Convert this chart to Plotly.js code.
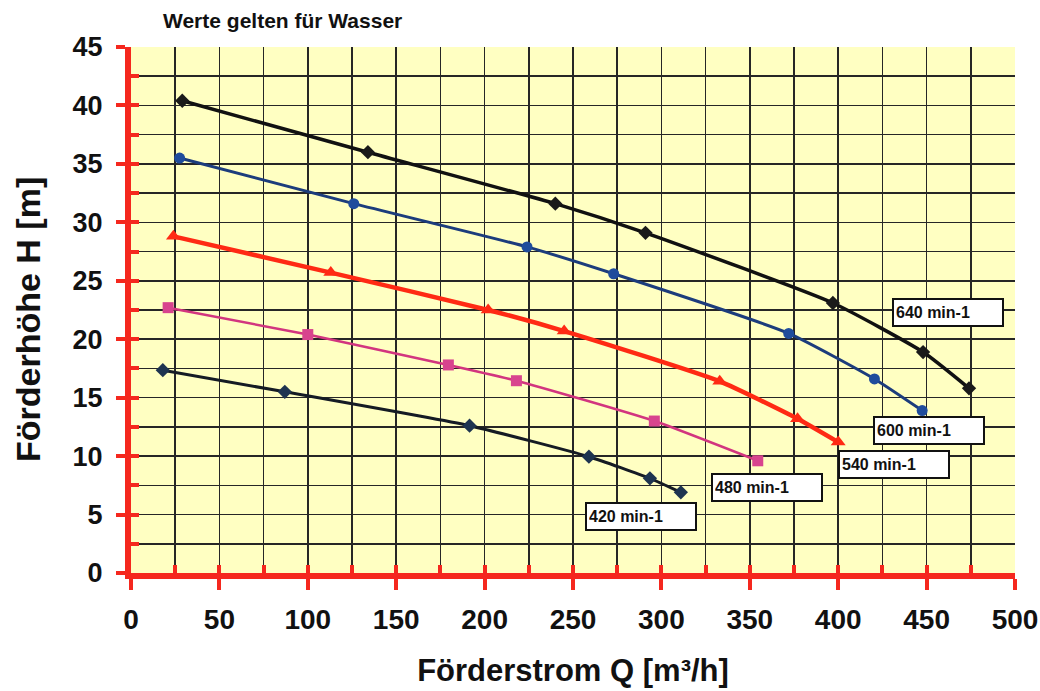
<!DOCTYPE html>
<html>
<head>
<meta charset="utf-8">
<script src="https://cdn.plot.ly/plotly-3.0.1.min.js"></script>
<style>html,body{margin:0;padding:0;background:#fff;}#chart{width:1040px;height:691px;}</style>
</head>
<body>
<div id="chart"></div>
<script>
// Series data (Q in m³/h, H in m)
const q640 = [29, 134, 240, 291, 397, 448, 474];
const h640 = [40.4, 36.0, 31.6, 29.1, 23.1, 18.9, 15.8];
const q600 = [27.5, 126, 224, 273, 372, 420.5, 447.5];
const h600 = [35.5, 31.6, 27.9, 25.6, 20.5, 16.6, 13.9];
const q540 = [24, 113, 202, 245, 333, 377, 400];
const h540 = [28.8, 25.7, 22.5, 20.7, 16.4, 13.2, 11.2];
const q480 = [21, 100, 179.5, 218, 296, 354.5];
const h480 = [22.7, 20.4, 17.8, 16.45, 13.0, 9.6];
const q420 = [18, 87, 191.5, 259, 293.5, 311];
const h420 = [17.35, 15.5, 12.6, 9.95, 8.1, 6.9];

const seriesLabels = ['640 min-1', '600 min-1', '540 min-1', '480 min-1', '420 min-1'];
const labelQ = [430.5, 419.6, 399.8, 328.2, 256.7];
const labelH = [22.3, 12.15, 9.25, 7.3, 4.8];

const chartTitle = 'Werte gelten für Wasser';
const xTitle = 'Förderstrom Q [m³/h]';
const yTitle = 'Förderhöhe H [m]';

const FONT = 'Liberation Sans, Arial, Helvetica, sans-serif';
const RED = '#f5281e';

function curve(x, y, color, width, symbol, msize, mcolor) {
  return {
    x: x, y: y, type: 'scatter', mode: 'lines+markers',
    line: {color: color, width: width, shape: 'spline', smoothing: 0.5},
    marker: {symbol: symbol, size: msize, color: mcolor || color},
    showlegend: false, hoverinfo: 'x+y'
  };
}

const traces = [
  curve(q640, h640, '#111111', 3.5, 'diamond', 11, '#1a1a1a'),
  curve(q600, h600, '#1c3c7c', 3, 'circle', 11, '#1f4c9c'),
  curve(q540, h540, '#ff2a14', 4.5, 'triangle-up', 13, '#ff2a14'),
  curve(q480, h480, '#d2357f', 2.5, 'square', 11, '#d8448e'),
  curve(q420, h420, '#151b24', 3, 'diamond', 11, '#1e3450'),
  {x: [0], y: [0], xaxis: 'x2', yaxis: 'y2', type: 'scatter', mode: 'markers',
   marker: {size: 1, opacity: 0}, showlegend: false, hoverinfo: 'skip'}
];

const annotations = seriesLabels.map((t, i) => ({
  x: labelQ[i], y: labelH[i], xref: 'x', yref: 'y',
  xanchor: 'left', yanchor: 'middle', align: 'left',
  text: t, showarrow: false,
  width: 104, height: 21,
  bgcolor: '#ffffff', bordercolor: '#111111', borderwidth: 2, borderpad: 2,
  font: {family: FONT, size: 16, color: '#111', weight: 'bold'}
}));

// Y axis title as rotated annotation (positioned like the reference)
annotations.push({
  text: yTitle, textangle: -90, showarrow: false,
  xref: 'paper', yref: 'paper',
  x: (28 - 131) / (1040 - 131 - 25), xanchor: 'center',
  y: (573 - 320) / (573 - 47), yanchor: 'middle',
  font: {family: FONT, size: 34, color: '#111', weight: 'bold'}
});

const layout = {
  width: 1040, height: 691,
  paper_bgcolor: '#ffffff',
  plot_bgcolor: '#ffffc2',
  margin: {l: 131, r: 25, t: 47, b: 118},
  showlegend: false,
  font: {family: FONT, color: '#111'},
  title: {
    text: chartTitle,
    x: 163 / 1040, xanchor: 'left', xref: 'container',
    y: 1 - 21 / 691, yanchor: 'middle', yref: 'container',
    font: {family: FONT, size: 21, color: '#111', weight: 'bold'}
  },
  xaxis: {
    range: [0, 500], tick0: 0, dtick: 50,
    ticks: 'outside', ticklen: 11, tickwidth: 4, tickcolor: RED,
    showline: true, linecolor: RED, linewidth: 6,
    showgrid: true, gridcolor: '#262626', gridwidth: 1.6,
    minor: {dtick: 25, showgrid: true, gridcolor: '#262626', gridwidth: 1.6, ticks: ''},
    zeroline: false,
    tickfont: {family: FONT, size: 28, color: '#111', weight: 'bold'},
    ticklabelstandoff: 5,
    title: {text: xTitle, standoff: 28,
            font: {family: FONT, size: 31, color: '#111', weight: 'bold'}}
  },
  yaxis: {
    range: [0, 45], tick0: 0, dtick: 5,
    ticks: 'outside', ticklen: 9, tickwidth: 4, tickcolor: RED,
    showline: true, linecolor: RED, linewidth: 6,
    showgrid: true, gridcolor: '#262626', gridwidth: 1.6,
    minor: {dtick: 2.5, showgrid: true, gridcolor: '#262626', gridwidth: 1.6, ticks: ''},
    zeroline: false,
    tickfont: {family: FONT, size: 27, color: '#111', weight: 'bold'},
    ticklabelstandoff: 8
  },
  xaxis2: {
    overlaying: 'x', anchor: 'y2', side: 'bottom',
    range: [0, 500], tick0: 0, dtick: 25,
    ticks: 'inside', ticklen: 8, tickwidth: 4, tickcolor: RED,
    showticklabels: false, showgrid: false, zeroline: false, showline: false
  },
  yaxis2: {
    overlaying: 'y', anchor: 'x2', side: 'left',
    range: [0, 45], tick0: 0, dtick: 2.5,
    ticks: 'inside', ticklen: 8, tickwidth: 4, tickcolor: RED,
    showticklabels: false, showgrid: false, zeroline: false, showline: false
  },
  annotations: annotations
};

Plotly.newPlot('chart', traces, layout, {displayModeBar: false, staticPlot: true});
</script>
</body>
</html>
